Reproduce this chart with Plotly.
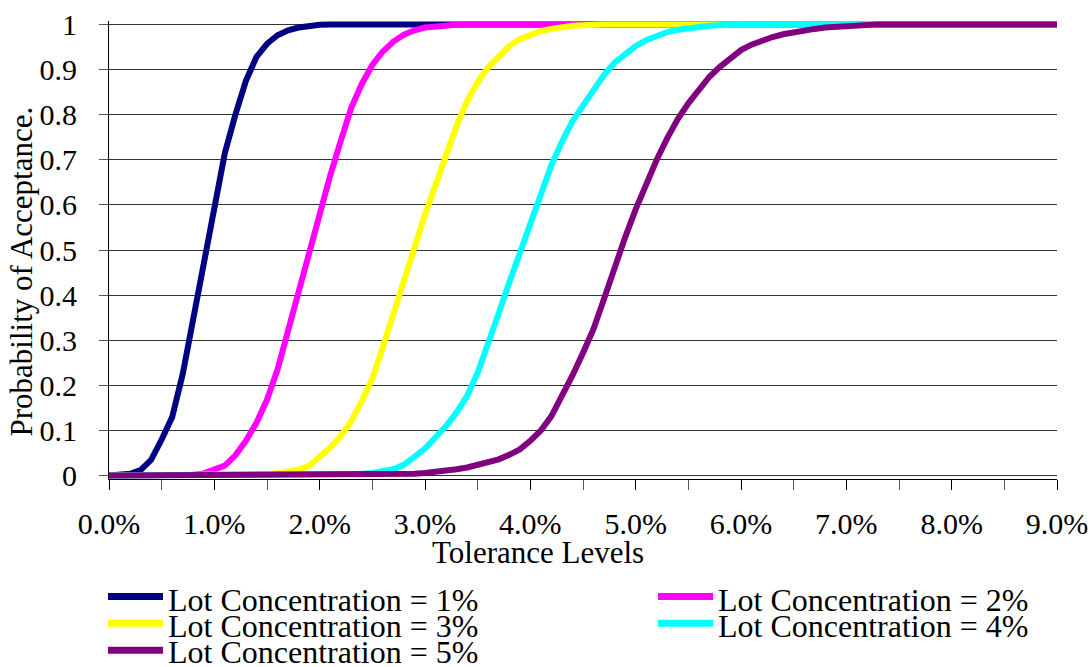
import plotly.graph_objects as go

# Tolerance levels (%) and probability of acceptance for each lot concentration
tol_1 = [0.0, 0.1, 0.2, 0.3, 0.4, 0.5, 0.6, 0.7, 0.8, 0.9, 1.0, 1.1, 1.2, 1.3, 1.4,
         1.5, 1.6, 1.7, 1.8, 1.9, 2.0, 2.1, 9.0]
pa_1 = [0.000, 0.001, 0.004, 0.012, 0.035, 0.080, 0.130, 0.225, 0.350, 0.480, 0.605,
        0.715, 0.800, 0.875, 0.928, 0.957, 0.976, 0.987, 0.993, 0.997, 0.999, 1.000, 1.000]

tol_2 = [0.0, 0.7, 0.8, 0.9, 1.0, 1.1, 1.2, 1.3, 1.4, 1.5, 1.6, 1.7, 1.8, 1.9, 2.0,
         2.1, 2.2, 2.3, 2.4, 2.5, 2.6, 2.7, 2.8, 2.9, 3.0, 3.1, 3.2, 3.3, 3.4, 9.0]
pa_2 = [0.000, 0.001, 0.002, 0.005, 0.012, 0.022, 0.045, 0.077, 0.117, 0.168, 0.235,
        0.320, 0.410, 0.495, 0.585, 0.665, 0.742, 0.815, 0.868, 0.910, 0.940, 0.962,
        0.977, 0.987, 0.993, 0.996, 0.998, 0.999, 1.000, 1.000]

tol_3 = [0.0, 1.3, 1.4, 1.5, 1.6, 1.7, 1.8, 1.9, 2.0, 2.1, 2.2, 2.3, 2.4, 2.5, 2.6,
         2.7, 2.8, 2.9, 3.0, 3.1, 3.2, 3.3, 3.4, 3.5, 3.6, 3.7, 3.8, 3.9, 4.0, 4.1,
         4.2, 4.3, 4.4, 4.5, 4.6, 4.7, 9.0]
pa_3 = [0.000, 0.001, 0.002, 0.003, 0.005, 0.008, 0.013, 0.022, 0.040, 0.062, 0.088,
        0.120, 0.165, 0.215, 0.285, 0.355, 0.430, 0.505, 0.578, 0.645, 0.713, 0.775,
        0.830, 0.872, 0.905, 0.930, 0.952, 0.967, 0.977, 0.985, 0.990, 0.994, 0.997,
        0.998, 0.999, 1.000, 1.000]

tol_4 = [0.0, 2.0, 2.1, 2.2, 2.3, 2.4, 2.5, 2.6, 2.7, 2.8, 2.9, 3.0, 3.1, 3.2, 3.3,
         3.4, 3.5, 3.6, 3.7, 3.8, 3.9, 4.0, 4.1, 4.2, 4.3, 4.4, 4.5, 4.6, 4.7, 4.8,
         4.9, 5.0, 5.1, 5.2, 5.3, 5.4, 5.5, 5.6, 5.7, 5.8, 5.9, 6.0, 9.0]
pa_4 = [0.000, 0.001, 0.001, 0.002, 0.003, 0.004, 0.006, 0.009, 0.014, 0.024, 0.040,
        0.060, 0.085, 0.110, 0.140, 0.177, 0.228, 0.290, 0.360, 0.428, 0.495, 0.562,
        0.625, 0.688, 0.740, 0.785, 0.820, 0.855, 0.888, 0.915, 0.935, 0.952, 0.965,
        0.975, 0.983, 0.988, 0.992, 0.995, 0.997, 0.998, 0.999, 1.000, 1.000]

tol_5 = [0.0, 2.5, 2.6, 2.7, 2.8, 2.9, 3.0, 3.1, 3.2, 3.3, 3.4, 3.5, 3.6, 3.7, 3.8,
         3.9, 4.0, 4.1, 4.2, 4.3, 4.4, 4.5, 4.6, 4.7, 4.8, 4.9, 5.0, 5.1, 5.2, 5.3,
         5.4, 5.5, 5.6, 5.7, 5.8, 5.9, 6.0, 6.1, 6.2, 6.3, 6.4, 6.5, 6.6, 6.7, 6.8,
         6.9, 7.0, 7.1, 7.2, 7.3, 9.0]
pa_5 = [0.000, 0.001, 0.001, 0.002, 0.003, 0.004, 0.006, 0.008, 0.011, 0.014, 0.018,
        0.023, 0.029, 0.036, 0.046, 0.058, 0.077, 0.100, 0.132, 0.175, 0.222, 0.272,
        0.325, 0.392, 0.462, 0.528, 0.590, 0.648, 0.700, 0.748, 0.790, 0.825, 0.857,
        0.884, 0.906, 0.926, 0.943, 0.955, 0.965, 0.972, 0.978, 0.983, 0.987, 0.990,
        0.993, 0.995, 0.997, 0.998, 0.999, 1.000, 1.000]

series_names = ["Lot Concentration = 1%", "Lot Concentration = 2%",
                "Lot Concentration = 3%", "Lot Concentration = 4%",
                "Lot Concentration = 5%"]
series_colors = ["#000080", "#FF00FF", "#FFFF00", "#00FFFF", "#800080"]
tolerances = [tol_1, tol_2, tol_3, tol_4, tol_5]
acceptance = [pa_1, pa_2, pa_3, pa_4, pa_5]

FONT = "Liberation Serif"
W_PX, H_PX = 1092, 667
M_L, M_R, M_T, M_B = 109, 35, 20.6, 187.6
PLOT_W = W_PX - M_L - M_R
PLOT_H = H_PX - M_T - M_B


def px_x(px):
    return (px - M_L) / PLOT_W


def px_y(py):
    return (H_PX - M_B - py) / PLOT_H


fig = go.Figure()
for name, color, xs, ys in zip(series_names, series_colors, tolerances, acceptance):
    fig.add_trace(go.Scatter(x=xs, y=ys, mode="lines", name=name,
                             line=dict(color=color, width=6),
                             showlegend=False))

# Legend drawn as text labels with short colour bars, two columns
legend_slots = [
    (108, 163, 597, 166, 601),
    (658, 713, 597, 716, 601),
    (108, 163, 624, 166, 627),
    (658, 713, 624, 716, 627),
    (108, 163, 651, 166, 653),
]
shapes = []
annotations = []
for (x0, x1, ly, tx, ty), name, color in zip(legend_slots, series_names, series_colors):
    shapes.append(dict(type="line", xref="paper", yref="paper",
                       x0=px_x(x0), x1=px_x(x1), y0=px_y(ly), y1=px_y(ly),
                       line=dict(color=color, width=7)))
    annotations.append(dict(text=name, xref="paper", yref="paper",
                            x=px_x(tx), y=px_y(ty), xanchor="left", yanchor="middle",
                            showarrow=False, font=dict(family=FONT, size=32, color="black")))

annotations.append(dict(text="Tolerance Levels", xref="paper", yref="paper",
                        x=px_x(537.5), y=px_y(553), xanchor="center", yanchor="middle",
                        showarrow=False, font=dict(family=FONT, size=31, color="black")))
annotations.append(dict(text="Probability of Acceptance.", xref="paper", yref="paper",
                        x=px_x(21.5), y=px_y(272), xanchor="center", yanchor="middle",
                        textangle=-90, showarrow=False,
                        font=dict(family=FONT, size=31, color="black")))

fig.update_layout(
    width=W_PX, height=H_PX,
    margin=dict(l=M_L, r=M_R, t=M_T, b=M_B, pad=0),
    paper_bgcolor="white", plot_bgcolor="white",
    font=dict(family=FONT, size=30, color="black"),
    shapes=shapes, annotations=annotations,
    xaxis=dict(range=[0, 9], dtick=1, tick0=0, tickformat=".1f", ticksuffix="%",
               automargin=False,
               showgrid=False, zeroline=False,
               showline=True, linecolor="black", linewidth=1,
               ticks="outside", ticklen=10, tickcolor="black", tickwidth=1,
               minor=dict(dtick=0.5, ticks="outside", ticklen=10, tickcolor="#555", showgrid=False),
               tickfont=dict(family=FONT, size=30, color="black"),
               ticklabelstandoff=8),
    yaxis=dict(range=[-0.0075, 1.0075], tickvals=[0, 0.1, 0.2, 0.3, 0.4, 0.5, 0.6, 0.7, 0.8, 0.9, 1],
               ticktext=["0", "0.1", "0.2", "0.3", "0.4", "0.5", "0.6", "0.7", "0.8", "0.9", "1"],
               automargin=False,
               showgrid=True, gridcolor="#333333", gridwidth=1, zeroline=False,
               showline=True, linecolor="black", linewidth=1,
               ticks="outside", ticklen=9, tickcolor="#555", tickwidth=1,
               tickfont=dict(family=FONT, size=30, color="black"),
               ticklabelstandoff=16),
    showlegend=False,
)

fig.write_html("out.html")
